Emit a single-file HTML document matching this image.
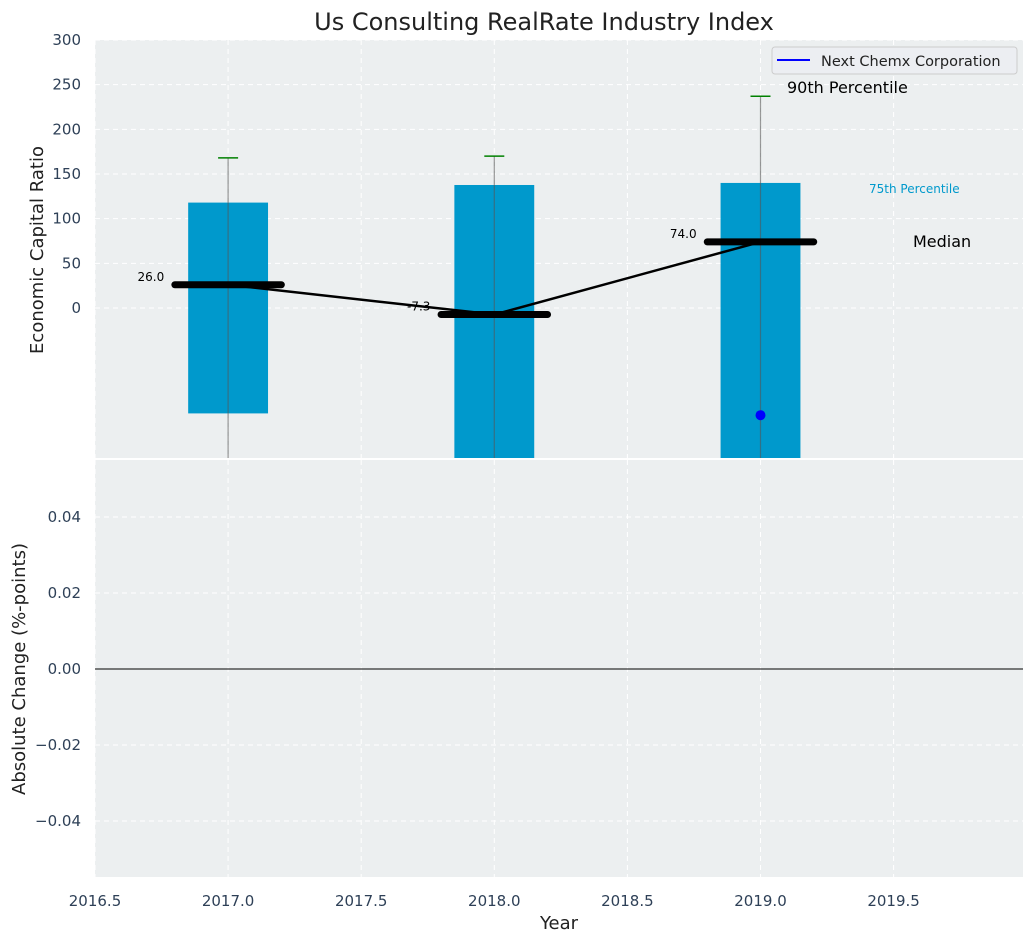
<!DOCTYPE html>
<html><head><meta charset="utf-8"><style>
body{margin:0;background:#fff;}
svg{display:block;font-family:"DejaVu Sans","Liberation Sans",sans-serif;}
</style></head><body>
<svg id="chart" width="1034" height="942"></svg>
<script>
const years=[2017,2018,2019];
const p75=[118,137.7,140];
const p25=[-118,-175,-175];
const p90=[168,170,237];
const p10=[-175,-175,-175];
const medians=[26,-7.3,74];
const medianLabels=["26.0","-7.3","74.0"];
const companyYears=[2019];
const companyValues=[-120];
const xTicks=[2016.5,2017,2017.5,2018,2018.5,2019,2019.5];
const yTicksTop=[0,50,100,150,200,250,300];
const yTicksBot=[-0.04,-0.02,0,0.02,0.04];

const NS="http://www.w3.org/2000/svg";
const svg=document.getElementById('chart');
function el(tag,attrs,parent){const e=document.createElementNS(NS,tag);for(const k in attrs)e.setAttribute(k,attrs[k]);(parent||svg).appendChild(e);return e;}
const L=95,R=1023,T1=40,B1=458,T2=460,B2=877;
const X=v=>L+(v-2016.5)*266.2;
const Y1=v=>308-v*0.8933;
const Y2=v=>669-v*3800;

let e=el('rect',{x:L,y:T1,width:R-L,height:B1-T1,fill:'#eceff0'});

e=el('rect',{x:L,y:T2,width:R-L,height:B2-T2,fill:'#eceff0'});


xTicks.forEach(t=>{
 [[T1,B1],[T2,B2]].forEach(([a,b])=>{
  const g=el('line',{x1:X(t),x2:X(t),y1:a,y2:b,stroke:'#fff','stroke-dasharray':'5,4','stroke-width':1});
  
 });
 const tx=el('text',{x:X(t),y:906,'text-anchor':'middle','font-size':15,fill:'#2e4057'});tx.textContent=t.toFixed(1);
 
});
yTicksTop.forEach(t=>{
 const g=el('line',{x1:L,x2:R,y1:Y1(t),y2:Y1(t),stroke:'#fff','stroke-dasharray':'5,4'});
 
 const tx=el('text',{x:81,y:Y1(t)+5,'text-anchor':'end','font-size':15,fill:'#2e4057'});tx.textContent=t;
 
});
yTicksBot.forEach(t=>{
 const g=el('line',{x1:L,x2:R,y1:Y2(t),y2:Y2(t),stroke:'#fff','stroke-dasharray':'5,4'});
 
 const tx=el('text',{x:81,y:Y2(t)+5,'text-anchor':'end','font-size':15,fill:'#2e4057'});tx.textContent=(t<0?'\u2212':'')+Math.abs(t).toFixed(2);
 
});
e=el('line',{x1:L,x2:R,y1:Y2(0),y2:Y2(0),stroke:'#000','stroke-width':1});


const cp=el('clipPath',{id:'c1'});
el('rect',{x:L,y:T1,width:R-L,height:B1-T1},cp);
const g1=el('g',{'clip-path':'url(#c1)'});
const bw=X(2016.8)-X(2016.5);
years.forEach((yr,i)=>{
 let b=el('rect',{x:X(yr)-bw/2,y:Y1(p75[i]),width:bw,height:Y1(p25[i])-Y1(p75[i]),fill:'#0099cc'},g1);
 
 let w=el('line',{x1:X(yr),x2:X(yr),y1:Y1(p90[i]),y2:Y1(p10[i]),stroke:'#555','stroke-opacity':0.6,'stroke-width':1.2},g1);
 
 let c=el('line',{x1:X(yr)-10,x2:X(yr)+10,y1:Y1(p90[i]),y2:Y1(p90[i]),stroke:'green','stroke-width':1.5},g1);
 
});
const pts=years.map((yr,i)=>X(yr)+','+Y1(medians[i])).join(' ');
e=el('polyline',{points:pts,fill:'none',stroke:'#000','stroke-width':2.5},g1);

years.forEach((yr,i)=>{
 let m=el('line',{x1:X(yr-0.2),x2:X(yr+0.2),y1:Y1(medians[i]),y2:Y1(medians[i]),stroke:'#000','stroke-width':7,'stroke-linecap':'round'},g1);
 
 let t=el('text',{x:X(yr-0.24),y:Y1(medians[i])-4,'text-anchor':'end','font-size':12,fill:'#000'});t.textContent=medianLabels[i];
 
});
companyYears.forEach((yr,i)=>{
 let d=el('circle',{cx:X(yr),cy:Y1(companyValues[i]),r:5,fill:'blue'},g1);
 
});

function txt(x,y,s,size,fill,name,anchor,extra){const t=el('text',Object.assign({x:x,y:y,'font-size':size,fill:fill,'text-anchor':anchor||'start'},extra||{}));t.textContent=s;return t;}
txt(787,93,'90th Percentile',16,'#000','p90-annotation');
txt(869,193,'75th Percentile',12,'#0099cc','p75-annotation');
txt(913,247,'Median',16,'#000','median-annotation');

const lg=el('g',{});
el('rect',{x:772,y:47,width:245,height:27,rx:3,fill:'#eceef2',stroke:'#ccc'},lg);
e=el('line',{x1:777,x2:810,y1:60,y2:60,stroke:'blue','stroke-width':2},lg);

txt(821,66,'Next Chemx Corporation',14.5,'#222','legend-label');

txt(544,30,'Us Consulting RealRate Industry Index',24,'#222','chart-title','middle');
txt(559,929,'Year',18,'#222','x-axis-title','middle');
txt(43,250,'Economic Capital Ratio',18,'#222','y-axis-title-top','middle',{transform:'rotate(-90 43 250)'});
txt(25,669,'Absolute Change (%-points)',18,'#222','y-axis-title-bottom','middle',{transform:'rotate(-90 25 669)'});
</script>
</body></html>
